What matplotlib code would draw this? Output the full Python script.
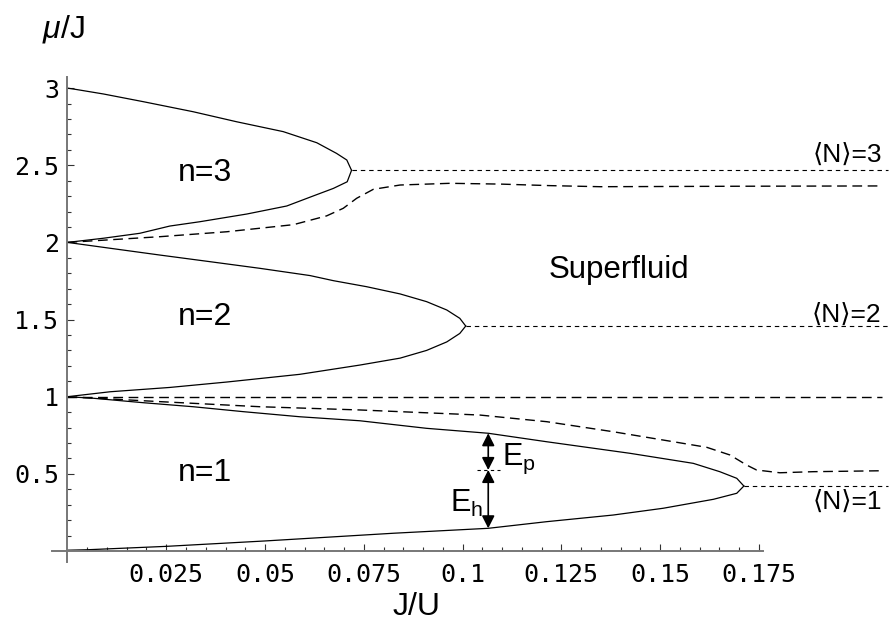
import matplotlib
matplotlib.use('Agg')
import matplotlib.pyplot as plt
import matplotlib.ticker as mticker

# ---- data (x = J/U, y = mu/J) ----
lobe3_upper_x = [0, 0.0025, 0.0091, 0.0192, 0.0318, 0.0428, 0.0546, 0.0631, 0.0681, 0.0707, 0.0719]
lobe3_upper_mu = [3.0, 2.99, 2.962, 2.912, 2.847, 2.782, 2.718, 2.646, 2.577, 2.534, 2.467]
lobe3_lower_x = [0, 0.0091, 0.0183, 0.0259, 0.0335, 0.0454, 0.0555, 0.0622, 0.0673, 0.0708, 0.0719]
lobe3_lower_mu = [2.0, 2.027, 2.059, 2.106, 2.134, 2.184, 2.236, 2.301, 2.350, 2.393, 2.467]

lobe2_upper_x = [0, 0.0108, 0.0234, 0.0361, 0.0487, 0.0614, 0.0673, 0.0757, 0.0842, 0.0909, 0.096, 0.0993, 0.1008]
lobe2_upper_mu = [2.0, 1.962, 1.918, 1.875, 1.832, 1.785, 1.752, 1.713, 1.666, 1.616, 1.562, 1.508, 1.458]
lobe2_lower_x = [0, 0.0108, 0.0259, 0.0403, 0.0588, 0.074, 0.0842, 0.0909, 0.096, 0.0993, 0.1008]
lobe2_lower_mu = [1.0, 1.032, 1.06, 1.095, 1.145, 1.205, 1.25, 1.30, 1.355, 1.41, 1.458]

lobe1_upper_x = [0, 0.0065, 0.0192, 0.0318, 0.0445, 0.0588, 0.074, 0.0909, 0.1065, 0.1213, 0.1424, 0.1584, 0.1651, 0.1694, 0.1712]
lobe1_upper_mu = [1.0, 0.99, 0.961, 0.935, 0.903, 0.870, 0.844, 0.795, 0.763, 0.708, 0.633, 0.568, 0.514, 0.471, 0.421]
lobe1_lower_x = [0, 0.005, 0.025, 0.05, 0.0825, 0.1065, 0.1213, 0.1381, 0.1508, 0.1635, 0.1694, 0.1712]
lobe1_lower_mu = [0.005, 0.008, 0.03, 0.065, 0.115, 0.147, 0.19, 0.233, 0.277, 0.335, 0.374, 0.421]

# long dashed curves
dash3_x = [0, 0.0234, 0.0403, 0.0572, 0.0656, 0.0698, 0.0732, 0.0774, 0.0842, 0.0968, 0.1095, 0.1221, 0.1348, 0.17, 0.2061]
dash3_mu = [2.0, 2.037, 2.069, 2.115, 2.172, 2.221, 2.286, 2.344, 2.372, 2.383, 2.378, 2.368, 2.361, 2.364, 2.366]
dash1_x = [0, 0.0234, 0.0487, 0.074, 0.1044, 0.1213, 0.1381, 0.1508, 0.1618, 0.1677, 0.1719, 0.1744, 0.1803, 0.1888, 0.2061]
dash1_mu = [1.0, 0.968, 0.935, 0.914, 0.881, 0.838, 0.773, 0.719, 0.672, 0.622, 0.557, 0.525, 0.507, 0.514, 0.52]
flat_dash_x = [0, 0.2061]
flat_dash_mu = [1.0, 1.0]

# short dashed <N> lines : (start x, mu)
density_lines_x = [0.0719, 0.1008, 0.1712]
density_lines_mu = [2.467, 1.458, 0.421]
density_end_x = 0.2077
density_labels = ['\u27e8N\u27e9=3', '\u27e8N\u27e9=2', '\u27e8N\u27e9=1']
density_label_mu = [2.566, 1.53, 0.32]

# gap arrows
gap_x = 0.1065
gap_top, gap_mid, gap_bottom = 0.763, 0.525, 0.147

lobe_labels = ['n=3', 'n=2', 'n=1']
lobe_label_mu = [2.448, 1.518, 0.503]
lobe_label_x = 0.0348

xticks = [0.025, 0.05, 0.075, 0.1, 0.125, 0.15, 0.175]
xtick_labels = ['0.025', '0.05', '0.075', '0.1', '0.125', '0.15', '0.175']
yticks = [0.5, 1, 1.5, 2, 2.5, 3]
ytick_labels = ['0.5', '1', '1.5', '2', '2.5', '3']

plt.rcParams['mathtext.fontset'] = 'custom'
plt.rcParams['mathtext.rm'] = 'Liberation Sans'
plt.rcParams['mathtext.it'] = 'Liberation Sans:italic'

text_font = ['Liberation Sans', 'DejaVu Sans']
tick_font = 'DejaVu Sans Mono'


def setup_axes(fig):
    '''
    Mathematica style axes crossing at the origin
    '''
    ax = fig.add_axes([0.0578, 0.0997, 0.9422, 0.7764])
    ax.set_xlim(-0.004, 0.2092)
    ax.set_ylim(-0.07, 3.07)
    for side in ['top', 'right']:
        ax.spines[side].set_visible(False)
    ax.spines['left'].set_position(('data', 0))
    ax.spines['bottom'].set_position(('data', 0))
    ax.spines['left'].set_bounds(-0.07, 3.07)
    ax.spines['bottom'].set_bounds(-0.004, 0.176)
    plt.setp(ax.spines.values(), color='#777777', linewidth=1.4)

    ax.set_xticks(xticks)
    ax.set_xticklabels(xtick_labels, family=tick_font, fontsize=18)
    ax.set_yticks(yticks)
    ax.set_yticklabels(ytick_labels, family=tick_font, fontsize=18)
    ax.xaxis.set_minor_locator(mticker.FixedLocator([i * 0.005 for i in range(1, 36)]))
    ax.yaxis.set_minor_locator(mticker.FixedLocator([i * 0.1 for i in range(1, 31)]))
    ax.tick_params(which='both', direction='in', color='#333333', width=0.8)
    ax.tick_params(which='major', length=5)
    ax.tick_params(which='minor', length=3)
    ax.tick_params(axis='x', pad=9)
    ax.tick_params(axis='y', pad=6)
    return ax


def draw_lobes(ax):
    solid = dict(color='k', lw=0.9, solid_joinstyle='round')
    for xs, ys in [(lobe3_upper_x, lobe3_upper_mu), (lobe3_lower_x, lobe3_lower_mu),
                   (lobe2_upper_x, lobe2_upper_mu), (lobe2_lower_x, lobe2_lower_mu),
                   (lobe1_upper_x, lobe1_upper_mu), (lobe1_lower_x, lobe1_lower_mu)]:
        ax.plot(xs, ys, **solid)

    # long dashes
    for xs, ys in [(dash3_x, dash3_mu), (dash1_x, dash1_mu), (flat_dash_x, flat_dash_mu)]:
        ax.plot(xs, ys, color='k', lw=1.0, dashes=(7, 4), clip_on=False)

    # short dashes for fixed density
    for x0, mu, lab, mu_lab in zip(density_lines_x, density_lines_mu,
                                   density_labels, density_label_mu):
        ax.plot([x0, density_end_x], [mu, mu], color='k', lw=0.8, dashes=(4, 3.5),
                clip_on=False)
        ax.text(0.2061, mu_lab, lab, ha='right', va='center', fontsize=19,
                family=text_font)


def draw_gaps(ax):
    style = '<|-|>,head_length=0.75,head_width=0.38'
    for top, bottom in [(gap_top, gap_mid), (gap_mid, gap_bottom)]:
        ax.annotate('', xy=(gap_x, top), xytext=(gap_x, bottom),
                    arrowprops=dict(arrowstyle=style, color='k', lw=1.2,
                                    shrinkA=0, shrinkB=0))
    ax.plot([0.1036, 0.1095], [gap_mid, gap_mid], color='k', lw=0.8, dashes=(3, 3))
    ax.text(0.1100, 0.60, r'E$_{\rm p}$', ha='left', va='center', fontsize=22,
            family=text_font)
    ax.text(0.1052, 0.305, r'E$_{\rm h}$', ha='right', va='center', fontsize=22,
            family=text_font)


def draw_labels(fig, ax):
    for lab, mu in zip(lobe_labels, lobe_label_mu):
        ax.text(lobe_label_x, mu, lab, ha='center', va='center', fontsize=23,
                family=text_font)
    ax.text(0.1396, 1.82, 'Superfluid', ha='center', va='center', fontsize=22.5,
            family=text_font)
    fig.text(0.0466, 0.953, r'$\mu$/J', ha='left', va='center', fontsize=23,
             family=text_font)
    fig.text(0.466, 0.027, 'J/U', ha='center', va='center', fontsize=23,
             family=text_font)


fig = plt.figure(figsize=(8.94, 6.24), dpi=100)
fig.set_facecolor('white')
ax = setup_axes(fig)
draw_lobes(ax)
draw_gaps(ax)
draw_labels(fig, ax)
fig.savefig('out.png', dpi=100)
